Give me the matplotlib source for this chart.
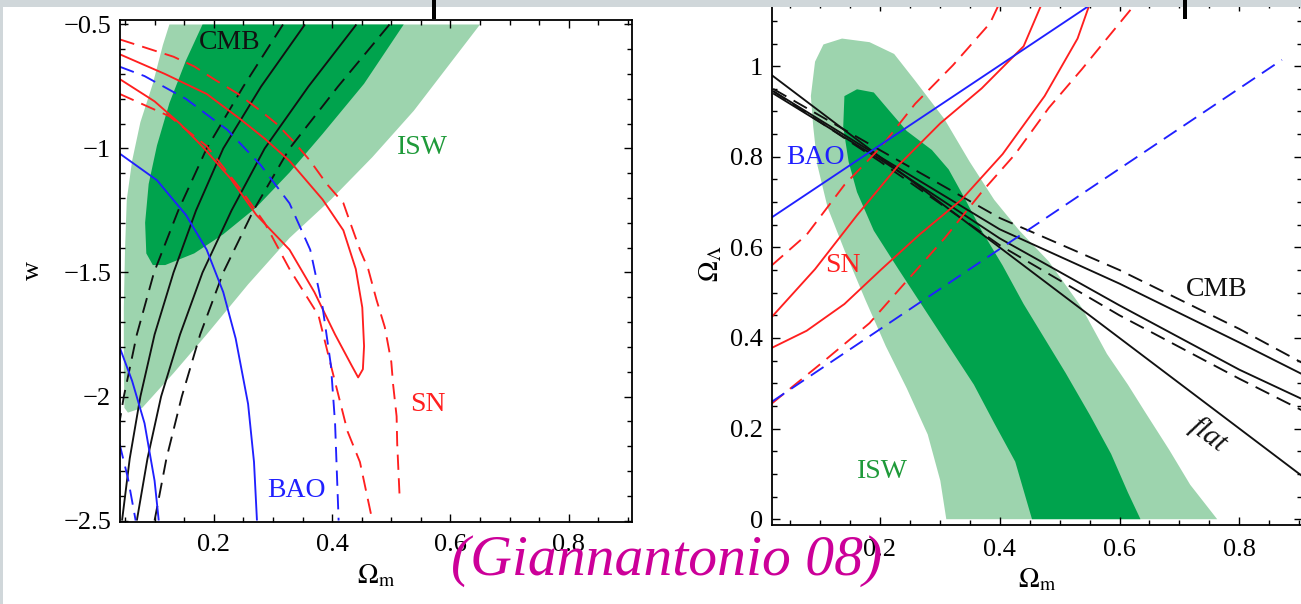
import matplotlib
matplotlib.use("Agg")
import matplotlib.pyplot as plt
from matplotlib.patches import Rectangle
from matplotlib.ticker import MultipleLocator, FixedLocator, FixedFormatter

plt.rcParams["font.family"] = ["Liberation Serif", "DejaVu Serif"]
plt.rcParams["mathtext.fontset"] = "stix"
plt.rcParams["lines.scale_dashes"] = False

# ---------------- left panel: (Omega_m, w) ----------------
isw_w_2s_om = [0.125, 0.114, 0.097, 0.076, 0.062, 0.053, 0.050, 0.048, 0.048, 0.049, 0.055, 0.079,
               0.132, 0.188, 0.258, 0.328, 0.398, 0.468, 0.538, 0.650]
isw_w_2s_w = [-0.5, -0.583, -0.739, -0.894, -1.05, -1.206, -1.408, -1.641, -1.875, -2.046, -2.065, -2.046,
              -1.906, -1.75, -1.548, -1.361, -1.206, -1.035, -0.848, -0.5]
isw_w_1s_om = [0.181, 0.153, 0.125, 0.104, 0.090, 0.084, 0.086, 0.097, 0.118, 0.167, 0.216, 0.272,
               0.328, 0.384, 0.454, 0.521]
isw_w_1s_w = [-0.5, -0.645, -0.817, -0.988, -1.143, -1.299, -1.423, -1.47, -1.47, -1.423, -1.346, -1.237,
              -1.097, -0.941, -0.739, -0.5]

cmb_w_solid_a_om = [0.354, 0.280, 0.216, 0.170, 0.132, 0.100, 0.076, 0.058, 0.045]
cmb_w_solid_a_w = [-0.5, -0.75, -1.0, -1.25, -1.5, -1.75, -2.0, -2.25, -2.5]
cmb_w_solid_b_om = [0.441, 0.360, 0.286, 0.230, 0.181, 0.143, 0.111, 0.088, 0.070]
cmb_w_solid_b_w = [-0.5, -0.75, -1.0, -1.25, -1.5, -1.75, -2.0, -2.25, -2.5]
cmb_w_dash_a_om = [0.317, 0.250, 0.188, 0.140, 0.099, 0.070, 0.048, 0.041]
cmb_w_dash_a_w = [-0.5, -0.75, -1.0, -1.25, -1.5, -1.75, -2.0, -2.1]
cmb_w_dash_b_om = [0.497, 0.410, 0.328, 0.267, 0.216, 0.177, 0.146, 0.120, 0.100]
cmb_w_dash_b_w = [-0.5, -0.75, -1.0, -1.25, -1.5, -1.75, -2.0, -2.25, -2.5]

sn_w_solid_om = [0.041, 0.118, 0.188, 0.244, 0.286, 0.328, 0.384, 0.419, 0.440, 0.451, 0.454, 0.452, 0.444,
                 0.433, 0.405, 0.370, 0.328, 0.272, 0.228, 0.180, 0.143, 0.100, 0.041]
sn_w_solid_w = [-0.62, -0.70, -0.78, -0.88, -0.96, -1.05, -1.206, -1.33, -1.486, -1.641, -1.797, -1.89, -1.923,
                -1.875, -1.75, -1.579, -1.408, -1.268, -1.12, -0.99, -0.90, -0.81, -0.72]
sn_w_dash_up_om = [0.041, 0.132, 0.167, 0.202, 0.240, 0.279, 0.307, 0.335, 0.363, 0.391, 0.419, 0.433,
                   0.447, 0.461, 0.475, 0.489, 0.500, 0.503, 0.509, 0.510, 0.514]
sn_w_dash_up_w = [-0.56, -0.63, -0.669, -0.723, -0.778, -0.848, -0.902, -0.972, -1.05, -1.143, -1.22, -1.315,
                  -1.408, -1.486, -1.61, -1.72, -1.86, -1.95, -2.08, -2.19, -2.40]
sn_w_dash_lo_om = [0.041, 0.125, 0.188, 0.244, 0.286, 0.328, 0.377, 0.398, 0.426, 0.447, 0.468]
sn_w_dash_lo_w = [-0.78, -0.87, -0.99, -1.16, -1.30, -1.486, -1.673, -1.875, -2.14, -2.264, -2.5]

bao_w_solid_a_om = [0.0407, 0.104, 0.153, 0.188, 0.216, 0.237, 0.258, 0.268, 0.273]
bao_w_solid_a_w = [-1.02, -1.128, -1.268, -1.408, -1.579, -1.766, -2.03, -2.264, -2.5]
bao_w_solid_b_om = [0.0407, 0.062, 0.083, 0.100, 0.107]
bao_w_solid_b_w = [-1.80, -1.937, -2.108, -2.34, -2.5]
bao_w_dash_a_om = [0.0407, 0.083, 0.153, 0.223, 0.279, 0.328, 0.363, 0.384, 0.398, 0.405, 0.411]
bao_w_dash_a_w = [-0.67, -0.708, -0.80, -0.925, -1.066, -1.221, -1.408, -1.641, -1.875, -2.108, -2.5]
bao_w_dash_b_om = [0.0407, 0.055, 0.068]
bao_w_dash_b_w = [-2.19, -2.33, -2.5]

# ---------------- right panel: (Omega_m, Omega_Lambda) ----------------
isw_l_2s_om = [0.092, 0.085, 0.089, 0.096, 0.113, 0.141, 0.176, 0.210, 0.245, 0.280, 0.301, 0.311,
               0.763, 0.718, 0.683, 0.642, 0.614, 0.579, 0.537, 0.482, 0.433, 0.391, 0.350, 0.308,
               0.259, 0.224, 0.183, 0.137, 0.106]
isw_l_2s_ol = [1.010, 0.934, 0.866, 0.781, 0.688, 0.594, 0.484, 0.382, 0.289, 0.187, 0.085, 0.0,
               0.0, 0.076, 0.153, 0.238, 0.297, 0.365, 0.467, 0.569, 0.637, 0.705, 0.789, 0.883,
               0.968, 1.027, 1.053, 1.061, 1.048]
isw_l_1s_om = [0.141, 0.139, 0.148, 0.162, 0.190, 0.231, 0.273, 0.315, 0.357, 0.391, 0.426, 0.454,
               0.635, 0.614, 0.586, 0.551, 0.510, 0.475, 0.440, 0.405, 0.370, 0.343, 0.315, 0.287,
               0.245, 0.217, 0.190, 0.162]
isw_l_1s_ol = [0.934, 0.866, 0.789, 0.722, 0.637, 0.552, 0.467, 0.382, 0.297, 0.212, 0.127, 0.0,
               0.0, 0.059, 0.144, 0.229, 0.323, 0.399, 0.475, 0.560, 0.637, 0.705, 0.772, 0.815,
               0.857, 0.900, 0.942, 0.949]

cmb_l_om = [0.022, 0.2, 0.4, 0.6, 0.8, 0.905]
cmb_l_dash_up = [0.950, 0.815, 0.665, 0.550, 0.420, 0.345]
cmb_l_solid_up = [0.945, 0.800, 0.640, 0.520, 0.390, 0.320]
cmb_l_solid_lo = [0.940, 0.795, 0.620, 0.472, 0.330, 0.265]
cmb_l_dash_lo = [0.945, 0.790, 0.605, 0.450, 0.310, 0.240]
flat_om = [0.0195, 0.905]
flat_ol = [0.9805, 0.095]

sn_l_solid_a_om = [0.0195, 0.092, 0.162, 0.231, 0.301, 0.370, 0.440, 0.471]
sn_l_solid_a_ol = [0.446, 0.552, 0.671, 0.781, 0.874, 0.951, 1.044, 1.14]
sn_l_solid_b_om = [0.0195, 0.078, 0.141, 0.203, 0.266, 0.336, 0.405, 0.475, 0.530, 0.551]
sn_l_solid_b_ol = [0.378, 0.416, 0.475, 0.552, 0.628, 0.705, 0.806, 0.934, 1.061, 1.14]
sn_l_dash_a_om = [0.0195, 0.078, 0.141, 0.203, 0.259, 0.322, 0.384, 0.40]
sn_l_dash_a_ol = [0.560, 0.628, 0.738, 0.823, 0.917, 1.002, 1.095, 1.14]
sn_l_dash_b_om = [0.0195, 0.106, 0.183, 0.245, 0.308, 0.370, 0.426, 0.482, 0.537, 0.579, 0.628]
sn_l_dash_b_ol = [0.255, 0.348, 0.433, 0.526, 0.620, 0.722, 0.806, 0.908, 0.993, 1.061, 1.14]

bao_l_solid_om = [0.0195, 0.551]
bao_l_solid_ol = [0.666, 1.135]
bao_l_dash_om = [0.0195, 0.871]
bao_l_dash_ol = [0.259, 1.014]

W, H = 1301, 604
fig = plt.figure(figsize=(W / 100, H / 100), dpi=100)
fig.patch.set_facecolor("white")

LIGHT = "#9dd4ae"
DARK = "#00a34d"
RED = "#ff1f1f"
BLUE = "#2020ff"
BLACK = "#111111"
LW = 1.35
DASH = (11, 6)


def px_axes(x0, y0, x1, y1):
    return fig.add_axes([x0 / W, 1 - y1 / H, (x1 - x0) / W, (y1 - y0) / H])


def style(ax, xpad):
    ax.set_facecolor("white")
    for s in ax.spines.values():
        s.set_linewidth(1.3)
        s.set_color("black")
    ax.tick_params(which="both", direction="in", top=True, right=True, width=1.0,
                   labelsize=19, pad=6, colors="black")
    ax.tick_params(axis="x", which="both", pad=xpad)
    ax.tick_params(which="major", length=6)
    ax.tick_params(which="minor", length=3.5)


def line(ax, xs, ys, color, dashed=False):
    kw = dict(color=color, lw=LW, solid_capstyle="butt", dash_capstyle="butt")
    if dashed:
        ax.plot(xs, ys, linestyle=(0, DASH), **kw)
    else:
        ax.plot(xs, ys, **kw)


# ---- left panel ----
axl = px_axes(119.5, 20, 632, 521.7)
style(axl, 9)
axl.set_xlim(0.0407, 0.9068)
axl.set_ylim(-2.5048, -0.4819)
axl.fill(isw_w_2s_om, isw_w_2s_w, color=LIGHT, lw=0, zorder=1)
axl.fill(isw_w_1s_om, isw_w_1s_w, color=DARK, lw=0, zorder=1.5)
line(axl, cmb_w_solid_a_om, cmb_w_solid_a_w, BLACK)
line(axl, cmb_w_solid_b_om, cmb_w_solid_b_w, BLACK)
line(axl, cmb_w_dash_a_om, cmb_w_dash_a_w, BLACK, True)
line(axl, cmb_w_dash_b_om, cmb_w_dash_b_w, BLACK, True)
line(axl, sn_w_solid_om, sn_w_solid_w, RED)
line(axl, sn_w_dash_up_om, sn_w_dash_up_w, RED, True)
line(axl, sn_w_dash_lo_om, sn_w_dash_lo_w, RED, True)
line(axl, bao_w_solid_a_om, bao_w_solid_a_w, BLUE)
line(axl, bao_w_solid_b_om, bao_w_solid_b_w, BLUE)
line(axl, bao_w_dash_a_om, bao_w_dash_a_w, BLUE, True)
line(axl, bao_w_dash_b_om, bao_w_dash_b_w, BLUE, True)

axl.xaxis.set_major_locator(FixedLocator([0.2, 0.4, 0.6, 0.8]))
axl.xaxis.set_major_formatter(FixedFormatter(["0.2", "0.4", "0.6", "0.8"]))
axl.xaxis.set_minor_locator(MultipleLocator(0.05))
axl.yaxis.set_major_locator(FixedLocator([-2.5, -2.0, -1.5, -1.0, -0.5]))
axl.yaxis.set_major_formatter(FixedFormatter(["\u22122.5", "\u22122", "\u22121.5", "\u22121", "\u22120.5"]))
axl.yaxis.set_minor_locator(MultipleLocator(0.1))
axl.set_xlabel(r"$\Omega_{\mathrm{m}}$", fontsize=20, labelpad=5)
axl.set_ylabel("w", fontsize=19, labelpad=14)

axl.text(0.2275, -0.571, "CMB", color=BLACK, fontsize=20, ha="center", va="center")
axl.text(0.553, -0.994, "ISW", color="#1f9a3a", fontsize=20, ha="center", va="center")
axl.text(0.562, -2.034, "SN", color=RED, fontsize=20, ha="center", va="center")
axl.text(0.34, -2.377, "BAO", color=BLUE, fontsize=20, ha="center", va="center")

# ---- right panel ----
axr = px_axes(771.6, 3, 1302, 525)
style(axr, 10)
axr.set_xlim(0.0195, 0.9045)
axr.set_ylim(-0.0128, 1.1395)
axr.fill(isw_l_2s_om, isw_l_2s_ol, color=LIGHT, lw=0, zorder=1)
axr.fill(isw_l_1s_om, isw_l_1s_ol, color=DARK, lw=0, zorder=1.5)
line(axr, cmb_l_om, cmb_l_dash_up, BLACK, True)
line(axr, cmb_l_om, cmb_l_solid_up, BLACK)
line(axr, cmb_l_om, cmb_l_solid_lo, BLACK)
line(axr, cmb_l_om, cmb_l_dash_lo, BLACK, True)
line(axr, flat_om, flat_ol, BLACK)
line(axr, sn_l_solid_a_om, sn_l_solid_a_ol, RED)
line(axr, sn_l_solid_b_om, sn_l_solid_b_ol, RED)
line(axr, sn_l_dash_a_om, sn_l_dash_a_ol, RED, True)
line(axr, sn_l_dash_b_om, sn_l_dash_b_ol, RED, True)
line(axr, bao_l_solid_om, bao_l_solid_ol, BLUE)
line(axr, bao_l_dash_om, bao_l_dash_ol, BLUE, True)

axr.xaxis.set_major_locator(FixedLocator([0.2, 0.4, 0.6, 0.8]))
axr.xaxis.set_major_formatter(FixedFormatter(["0.2", "0.4", "0.6", "0.8"]))
axr.xaxis.set_minor_locator(MultipleLocator(0.05))
axr.yaxis.set_major_locator(FixedLocator([0, 0.2, 0.4, 0.6, 0.8, 1.0]))
axr.yaxis.set_major_formatter(FixedFormatter(["0", "0.2", "0.4", "0.6", "0.8", "1"]))
axr.yaxis.set_minor_locator(MultipleLocator(0.05))
axr.set_xlabel(r"$\Omega_{\mathrm{m}}$", fontsize=20, labelpad=4)
axr.set_ylabel(r"$\Omega_{\Lambda}$", fontsize=20, labelpad=4)

axr.text(0.092, 0.798, "BAO", color=BLUE, fontsize=20, ha="center", va="center")
axr.text(0.138, 0.559, "SN", color=RED, fontsize=20, ha="center", va="center")
axr.text(0.204, 0.106, "ISW", color="#1f9a3a", fontsize=20, ha="center", va="center")
axr.text(0.762, 0.508, "CMB", color=BLACK, fontsize=20, ha="center", va="center")
axr.text(0.749, 0.186, "flat", color=BLACK, fontsize=21, style="italic", rotation=-37,
         ha="center", va="center", rotation_mode="anchor")

# ---- slide background strips and caption ----
GREY = "#d0d7da"
fig.add_artist(Rectangle((0, 1 - 7 / H), 1, 7 / H, transform=fig.transFigure,
                         facecolor=GREY, edgecolor="none", zorder=5))
fig.add_artist(Rectangle((0, 0), 3 / W, 1, transform=fig.transFigure,
                         facecolor=GREY, edgecolor="none", zorder=5))
for bx in (431.5, 1182.5):
    fig.add_artist(Rectangle((bx / W, 1 - 19 / H), 4.5 / W, 19 / H, transform=fig.transFigure,
                             facecolor="black", edgecolor="none", zorder=6))

fig.text(451 / W, (H - 575) / H, "(Giannantonio 08)", color="#cc0099", fontsize=41.5,
         style="italic", ha="left", va="baseline", zorder=7)

fig.savefig("out.png", dpi=100, facecolor=fig.get_facecolor())
